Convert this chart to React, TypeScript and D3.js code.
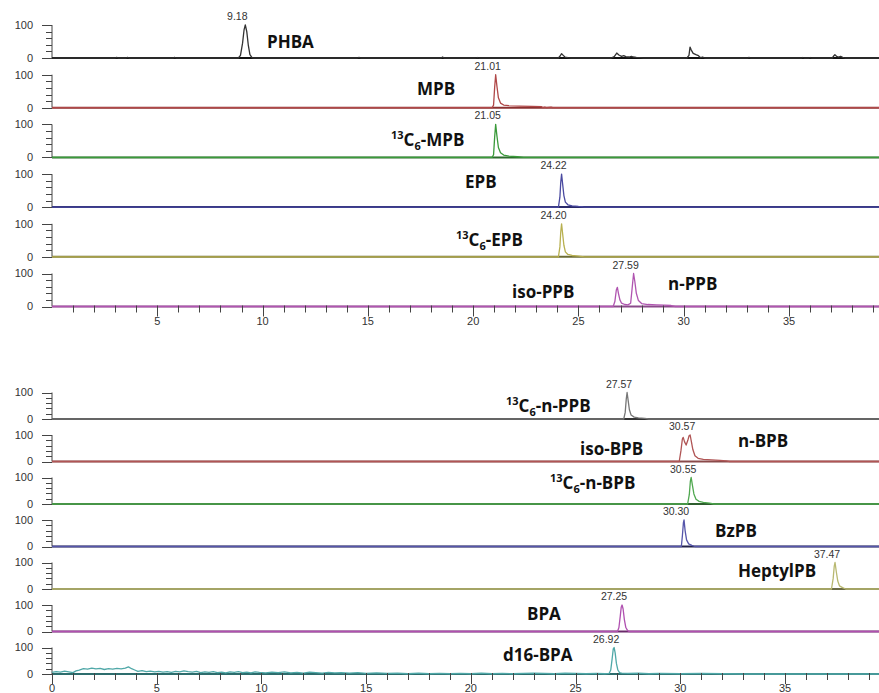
import { useEffect, useRef } from 'react'
import * as d3 from 'd3'

type Pt = [number, number]

// ---- traces (retention time in min, relative abundance %) ----
const phbaTrace: Pt[] = [
  [0, 0], [3.0, 0], [3.07, 2], [3.14, 0], [3.52, 0], [3.59, 2], [3.66, 0], [5.76, 0], [5.82, 2], [5.9, 0],
  [8.85, 0], [8.95, 8], [9.05, 45], [9.12, 85], [9.18, 100], [9.25, 80], [9.32, 40], [9.4, 10], [9.5, 1], [9.6, 0],
  [14.5, 0], [14.58, 2], [14.66, 0], [18.48, 0], [18.55, 3], [18.62, 0], [20.12, 0], [20.2, 1.5], [20.28, 0],
  [24.05, 0], [24.13, 6], [24.2, 13], [24.28, 8], [24.36, 3], [24.5, 1], [24.65, 0],
  [26.55, 0], [26.7, 4], [26.82, 15], [26.92, 9], [27.05, 5], [27.15, 7], [27.25, 4], [27.4, 3], [27.52, 5],
  [27.6, 3], [27.75, 2], [27.95, 1], [28.1, 0],
  [30.15, 0], [30.25, 8], [30.3, 33], [30.36, 24], [30.45, 14], [30.58, 10], [30.7, 7], [30.8, 1], [30.9, 3], [31.0, 0],
  [33.05, 0], [33.1, 2], [33.17, 0], [35.6, 0], [35.65, 1.5], [35.72, 0], [35.95, 0], [36.0, 1.5], [36.07, 0],
  [37.05, 0], [37.12, 6], [37.18, 10], [37.26, 5], [37.35, 3], [37.45, 5], [37.55, 2], [37.65, 0], [39.5, 0],
]
const mpbTrace: Pt[] = [
  [0, 0], [20.9, 0], [20.97, 8], [21.02, 60], [21.07, 100], [21.13, 65], [21.2, 30], [21.3, 14], [21.45, 8],
  [21.7, 6], [22.2, 5], [22.8, 4], [23.25, 3], [23.32, 0], [23.4, 2], [23.48, 0], [23.7, 1.5], [23.78, 0], [39.5, 0],
]
const c13MpbTrace: Pt[] = [
  [0, 0], [20.9, 0], [20.97, 8], [21.02, 60], [21.07, 100], [21.13, 65], [21.2, 30], [21.3, 14], [21.45, 7],
  [21.7, 4], [22.1, 2], [22.4, 0], [39.5, 0],
]
const epbTrace: Pt[] = [
  [0, 0], [24.05, 0], [24.12, 30], [24.16, 75], [24.2, 100], [24.25, 70], [24.31, 35], [24.38, 15], [24.5, 7],
  [24.7, 4], [25.0, 2], [25.2, 1], [25.3, 0], [39.5, 0],
]
const c13EpbTrace: Pt[] = [
  [0, 0], [24.05, 0], [24.12, 30], [24.16, 75], [24.2, 100], [24.25, 70], [24.31, 35], [24.38, 15], [24.5, 7],
  [24.7, 4], [25.0, 2], [25.3, 0], [39.5, 0],
]
const ppbTrace: Pt[] = [
  [0, 0], [26.65, 0], [26.73, 15], [26.8, 50], [26.85, 58], [26.9, 40], [26.97, 20], [27.05, 10], [27.2, 6],
  [27.35, 5], [27.48, 10], [27.55, 55], [27.62, 100], [27.68, 75], [27.75, 40], [27.85, 18], [28.0, 9],
  [28.3, 6], [28.7, 5], [29.1, 4], [29.4, 3], [29.6, 0], [39.5, 0],
]
const c13PpbTrace: Pt[] = [
  [0, 0], [27.3, 0], [27.37, 25], [27.42, 75], [27.46, 100], [27.51, 70], [27.57, 35], [27.65, 15], [27.8, 7],
  [28.0, 4], [28.3, 2], [28.5, 0], [39.5, 0],
]
const bpbTrace: Pt[] = [
  [0, 0], [29.95, 0], [30.03, 40], [30.1, 85], [30.14, 91], [30.2, 75], [30.28, 62], [30.36, 80], [30.42, 97],
  [30.47, 100], [30.53, 75], [30.6, 45], [30.7, 22], [30.85, 12], [31.1, 8], [31.5, 6], [31.9, 4], [32.2, 2],
  [32.35, 0], [39.5, 0],
]
const c13BpbTrace: Pt[] = [
  [0, 0], [30.35, 0], [30.43, 35], [30.48, 85], [30.52, 100], [30.58, 70], [30.65, 38], [30.75, 18], [30.9, 10],
  [31.1, 6], [31.4, 3], [31.6, 0], [39.5, 0],
]
const bzpbTrace: Pt[] = [
  [0, 0], [30.05, 0], [30.1, 40], [30.15, 90], [30.18, 100], [30.23, 60], [30.3, 25], [30.4, 10], [30.55, 4],
  [30.7, 0], [39.5, 0],
]
const heptylTrace: Pt[] = [
  [0, 0], [37.22, 0], [37.3, 40], [37.35, 85], [37.39, 100], [37.45, 65], [37.52, 30], [37.6, 12], [37.75, 5],
  [37.9, 0], [39.5, 0],
]
const bpaTrace: Pt[] = [
  [0, 0], [27.0, 0], [27.07, 15], [27.13, 55], [27.18, 92], [27.22, 100], [27.27, 85], [27.33, 45], [27.4, 15],
  [27.48, 4], [27.55, 0], [39.5, 0],
]
const d16BpaTrace: Pt[] = [
  [0, 6], [0.2, 9], [0.4, 7], [0.6, 11], [0.8, 8], [1.0, 5], [1.15, 12], [1.3, 15], [1.5, 20], [1.7, 18],
  [1.9, 22], [2.1, 19], [2.3, 21], [2.5, 17], [2.7, 20], [2.9, 18], [3.1, 21], [3.3, 19], [3.5, 22], [3.65, 27],
  [3.8, 20], [3.95, 15], [4.1, 10], [4.3, 13], [4.5, 9], [4.7, 11], [4.9, 8], [5.1, 10], [5.3, 7], [5.5, 9],
  [5.7, 6], [5.9, 10], [6.1, 8], [6.3, 12], [6.5, 9], [6.7, 7], [6.9, 10], [7.1, 5], [7.3, 8], [7.5, 6],
  [7.7, 9], [7.9, 5], [8.1, 7], [8.3, 4], [8.5, 8], [8.7, 6], [8.9, 9], [9.1, 5], [9.3, 7], [9.5, 4],
  [9.7, 8], [9.9, 6], [10.2, 4], [10.5, 7], [10.8, 5], [11.1, 8], [11.4, 4], [11.7, 6], [12.0, 3], [12.3, 7],
  [12.6, 5], [12.9, 3], [13.2, 6], [13.5, 4], [13.8, 5], [14.2, 3], [14.6, 5], [15.0, 2], [15.5, 4], [16.0, 2],
  [16.5, 3], [17.0, 1], [17.5, 3], [18.0, 1], [18.5, 2], [19.0, 1], [19.5, 2], [20.0, 1], [20.5, 3], [21.0, 1],
  [21.5, 2], [22.0, 1], [22.5, 2], [23.0, 3], [23.5, 2], [24.0, 1], [24.5, 3], [25.0, 2], [25.5, 1], [26.0, 2],
  [26.4, 1], [26.6, 2], [26.68, 15], [26.75, 60], [26.8, 95], [26.84, 100], [26.89, 80], [26.95, 40], [27.02, 15],
  [27.1, 5], [27.2, 3], [27.5, 2], [28.0, 3], [28.5, 1], [29.0, 2], [30.0, 1], [31, 2], [32, 1], [33, 0], [39.5, 0],
]

// ---- panel names, peak annotations ----
const topNames = ['PHBA', 'MPB', '13C6-MPB', 'EPB', '13C6-EPB', 'iso-PPB|n-PPB']
const topTraces = [phbaTrace, mpbTrace, c13MpbTrace, epbTrace, c13EpbTrace, ppbTrace]
const topPeakText = ['9.18', '21.01', '21.05', '24.22', '24.20', '27.59']
const topPeakTime = [9.18, 21.07, 21.07, 24.2, 24.2, 27.62]

const botNames = ['13C6-n-PPB', 'iso-BPB|n-BPB', '13C6-n-BPB', 'BzPB', 'HeptylPB', 'BPA', 'd16-BPA']
const botTraces = [c13PpbTrace, bpbTrace, c13BpbTrace, bzpbTrace, heptylTrace, bpaTrace, d16BpaTrace]
const botPeakText = ['27.57', '30.57', '30.55', '30.30', '37.47', '27.25', '26.92']
const botPeakTime = [27.46, 30.47, 30.52, 30.18, 37.39, 27.22, 26.84]

const majorTicks = [0, 5, 10, 15, 20, 25, 30, 35]
const yTicks = [0, 20, 40, 60, 80, 100]

// ---- styling / layout ----
const topColors = ['#333333', '#b04848', '#3a9a3a', '#4a4aa0', '#b8b050', '#b055b0']
const topBase = ['#111111', '#8b3030', '#2b6b2b', '#2a2a6a', '#6b6b35', '#8a4a8a']
const botColors = ['#777777', '#b05555', '#50a850', '#5555aa', '#b8b870', '#b050b0', '#50a8a8']
const botBase = ['#333333', '#8a4a4a', '#2d5d2d', '#22224a', '#6b6b45', '#6a2a6a', '#2d6d6d']
// label left x and offset of text baseline from panel baseline (pairs for split labels)
const topLabelPos = [[267, -10], [417, -13], [391, -11.5], [465, -19.5], [456, -11], [512, -8.5, 668, -16.5]]
const botLabelPos = [[506, -7], [580, -6.7, 738, -14.7], [550, -15], [715, -9.7], [738, -12], [527, -11.5], [503, -13.5]]

const W = 879
const H = 693
const X0 = 52

const App = () => {
  const svgRef = useRef<SVGSVGElement | null>(null)

  useEffect(() => {
    if (!svgRef.current) return
    const svg = d3.select(svgRef.current)
    svg.selectAll('*').remove()

    svg.append('rect').attr('width', W).attr('height', H).attr('fill', 'white')

    const drawLabel = (g: any, x: number, y: number, text: string) => {
      const t = g
        .append('text')
        .attr('x', x)
        .attr('y', y)
        .attr('font-family', '"Open Sans", sans-serif')
        .attr('font-weight', 700)
        .attr('font-size', 17)
        .attr('fill', '#111')
      if (text.startsWith('13C6')) {
        t.append('tspan').attr('font-size', 11).attr('dy', -7).text('13')
        t.append('tspan').attr('dy', 7).text('C')
        t.append('tspan').attr('font-size', 11).attr('dy', 4).text('6')
        t.append('tspan').attr('dy', -4).text(text.slice(4))
      } else t.text(text)
    }

    const drawBlock = (
      x: d3.ScaleLinear<number, number>,
      baselines: number[],
      h: number,
      names: string[],
      traces: Pt[][],
      colors: string[],
      bases: string[],
      labelPos: number[][],
      peakText: string[],
      peakTime: number[],
      showZero: boolean
    ) => {
      const g = svg.append('g')
      baselines.forEach((b, i) => {
        const y = d3.scaleLinear().domain([0, 100]).range([b, b - h])

        // y axis
        g.append('line')
          .attr('x1', X0).attr('x2', X0)
          .attr('y1', y(100)).attr('y2', y(0))
          .attr('stroke', '#444').attr('stroke-width', 1)
        g.selectAll(null)
          .data(yTicks)
          .join('line')
          .attr('x1', (d) => (d === 0 || d === 100 ? X0 - 10 : X0 - 6))
          .attr('x2', X0)
          .attr('y1', (d) => Math.round(y(d)) + 0.5)
          .attr('y2', (d) => Math.round(y(d)) + 0.5)
          .attr('stroke', '#444')
        g.selectAll(null)
          .data([0, 100])
          .join('text')
          .attr('x', 33)
          .attr('y', (d) => y(d))
          .attr('dy', '0.35em')
          .attr('text-anchor', 'end')
          .attr('font-family', '"Liberation Sans", Arial, sans-serif')
          .attr('font-size', 11)
          .attr('fill', '#333')
          .text((d) => d)

        // baseline
        g.append('line')
          .attr('x1', X0).attr('x2', W)
          .attr('y1', b).attr('y2', b)
          .attr('stroke', bases[i]).attr('stroke-width', 2)

        // trace
        const line = d3
          .line<Pt>()
          .x((d) => x(d[0]))
          .y((d) => y(d[1]))
        g.append('path')
          .datum(traces[i])
          .attr('d', line)
          .attr('fill', 'none')
          .attr('stroke', colors[i])
          .attr('stroke-width', 1.3)
          .attr('stroke-linejoin', 'round')

        // peak label
        g.append('text')
          .attr('x', x(peakTime[i]) - 8)
          .attr('y', y(100) - 5)
          .attr('text-anchor', 'middle')
          .attr('font-family', '"Liberation Sans", Arial, sans-serif')
          .attr('font-size', 10.5)
          .attr('fill', '#333')
          .text(peakText[i])

        // compound name(s)
        const parts = names[i].split('|')
        parts.forEach((p, k) => {
          drawLabel(g, labelPos[i][k * 2], b + labelPos[i][k * 2 + 1], p)
        })
      })

      // x axis ticks
      const axisY = baselines[baselines.length - 1]
      const minor = d3.range(showZero ? 0 : 1, 40)
      g.selectAll(null)
        .data(minor)
        .join('line')
        .attr('x1', (d) => Math.round(x(d)) + 0.5)
        .attr('x2', (d) => Math.round(x(d)) + 0.5)
        .attr('y1', axisY - 1)
        .attr('y2', (d) => (d % 5 === 0 ? axisY + 10 : axisY + 6))
        .attr('stroke', '#444')
      g.selectAll(null)
        .data(majorTicks.filter((d) => showZero || d > 0))
        .join('text')
        .attr('x', (d) => x(d))
        .attr('y', axisY + 18)
        .attr('text-anchor', 'middle')
        .attr('font-family', '"Liberation Sans", Arial, sans-serif')
        .attr('font-size', 11)
        .attr('fill', '#333')
        .text((d) => d)
    }

    const xTop = d3.scaleLinear().domain([0, 35]).range([X0, 789])
    const xBot = d3.scaleLinear().domain([0, 35]).range([X0, 785])

    drawBlock(xTop, [58, 107.7, 157.4, 207.1, 256.8, 306.5], 33, topNames, topTraces,
      topColors, topBase, topLabelPos, topPeakText, topPeakTime, false)
    drawBlock(xBot, [419, 461.5, 504, 546.5, 589, 631.5, 674], 26.5, botNames, botTraces,
      botColors, botBase, botLabelPos, botPeakText, botPeakTime, true)
  }, [])

  return (
    <svg
      ref={svgRef}
      width={W}
      height={H}
      style={{ position: 'absolute', left: 0, top: 0 }}
    ></svg>
  )
}

export default App
